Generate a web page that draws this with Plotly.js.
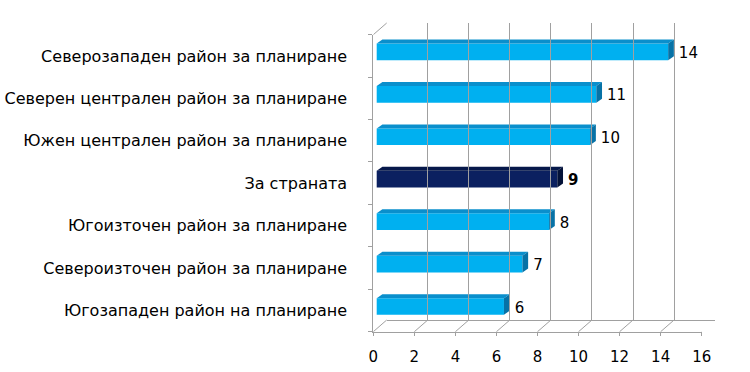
<!DOCTYPE html>
<html><head><meta charset="utf-8">
<script src="https://cdn.plot.ly/plotly-3.0.1.min.js"></script>
<style>body{margin:0;background:#fff}#c{width:750px;height:372px}</style>
</head><body><div id="c"></div>
<script>
// Categories listed top to bottom as in the chart
const categories = [
  "Северозападен район за планиране",
  "Северен централен район за планиране",
  "Южен централен район за планиране",
  "За страната",
  "Югоизточен район за планиране",
  "Североизточен район за планиране",
  "Югозападен район на планиране"
];
const values = [14.2, 10.7, 10.4, 8.8, 8.4, 7.1, 6.2];
const highlight = "За страната";
const xTicks = [0, 2, 4, 6, 8, 10, 12, 14, 16];

// ---- styling / geometry constants ----
const W = 750, H = 372;
const FONT = "DejaVu Sans";
const fx0 = 373.3, fx1 = 701.7, fyTop = 34.7, fyBot = 331.7;   // front frame (px)
const wallDX = 13.4, wallDY = 11.7;                            // depth of the 3D box (px)
const pxPerUnit = (fx1 - fx0) / 16;
const pxPerCat = (fyBot - fyTop) / categories.length;
const barBase = 3.4 / pxPerUnit;       // bar front sits a little into the box
const barShiftY = 4.0 / pxPerCat;
const barW = 16.7 / pxPerCat;
const bdx = 5.7 / pxPerUnit, bdy = 4.0 / pxPerCat;  // bar depth
const labelGap = 5 / pxPerUnit;
const wallDXu = wallDX / pxPerUnit;

const n = categories.length;
const idx = categories.map((c, i) => n - 1 - i);
const isHi = categories.map(c => c === highlight);
const frontCol = isHi.map(h => h ? "#0b2060" : "#00b0f0");
const topCol = isHi.map(h => h ? "#06184a" : "#0a8fcc");
const sideCol = isHi.map(h => h ? "#041238" : "#0772a6");

const px = x => x / W, py = y => (H - y) / H;

const traces = [];
// front faces
traces.push({
  type: "bar", orientation: "h", x: values, y: idx, base: barBase,
  width: barW, offset: -barW / 2 + barShiftY,
  marker: { color: frontCol, line: { width: 0 } }, hoverinfo: "skip", xaxis: "x", yaxis: "y"
});
// top and side faces
values.forEach((v, i) => {
  const y0 = idx[i] - barW / 2 + barShiftY, y1 = y0 + barW;
  const xa = barBase, xb = barBase + v;
  traces.push({
    type: "scatter", mode: "lines", fill: "toself", fillcolor: topCol[i],
    line: { width: 0, color: topCol[i] }, hoverinfo: "skip",
    x: [xa, xb, xb + bdx, xa + bdx, xa], y: [y1, y1, y1 + bdy, y1 + bdy, y1],
    xaxis: "x", yaxis: "y"
  });
  traces.push({
    type: "scatter", mode: "lines", fill: "toself", fillcolor: sideCol[i],
    line: { width: 0, color: sideCol[i] }, hoverinfo: "skip",
    x: [xb, xb, xb + bdx, xb + bdx, xb], y: [y0, y1, y1 + bdy, y0 + bdy, y0],
    xaxis: "x", yaxis: "y"
  });
});
// data labels
traces.push({
  type: "scatter", mode: "text", hoverinfo: "skip",
  x: values.map(v => barBase + v + bdx + labelGap), y: idx.map(k => k + 0.04),
  text: values.map((v, i) => isHi[i] ? "<b>" + v.toFixed(0) + "</b>" : v.toFixed(0)),
  textposition: "middle right",
  textfont: { family: FONT, size: 15, color: "#000" },
  xaxis: "x", yaxis: "y"
});
// dummy traces to create the back wall and the boundary-tick axes
traces.push({ type: "scatter", mode: "none", x: [0], y: [0], xaxis: "x2", yaxis: "y2", hoverinfo: "skip" });
traces.push({ type: "scatter", mode: "none", x: [0], y: [0], xaxis: "x", yaxis: "y3", hoverinfo: "skip" });

// floor diagonals + top-left diagonal
const shapes = xTicks.map(v => ({
  type: "line", xref: "x", yref: "paper",
  x0: v, y0: py(fyBot), x1: v + wallDXu, y1: py(fyBot - wallDY),
  line: { color: "#a0a0a0", width: 1 }, layer: "below"
}));
shapes.push({
  type: "line", xref: "x", yref: "paper",
  x0: 0, y0: py(fyTop), x1: wallDXu, y1: py(fyTop - wallDY),
  line: { color: "#a0a0a0", width: 1 }, layer: "below"
});

const layout = {
  width: W, height: H, margin: { l: 0, r: 0, t: 0, b: 0 },
  paper_bgcolor: "#fff", plot_bgcolor: "rgba(0,0,0,0)", showlegend: false,
  font: { family: FONT, color: "#000" },
  xaxis: {
    domain: [px(fx0), px(fx1)], range: [0, 16], tickvals: xTicks, ticktext: xTicks.map(String),
    showgrid: false, zeroline: false, showline: true, linecolor: "#a0a0a0", linewidth: 1,
    ticks: "outside", ticklen: 3, tickcolor: "#a0a0a0", ticklabelstandoff: 8,
    tickfont: { family: FONT, size: 15, color: "#000" }, anchor: "y", fixedrange: true
  },
  yaxis: {
    domain: [py(fyBot), py(fyTop)], range: [-0.5, n - 0.5],
    tickvals: idx, ticktext: categories, ticks: "", showgrid: false, zeroline: false,
    showline: true, linecolor: "#a0a0a0", linewidth: 1, ticklabelstandoff: 22,
    tickfont: { family: FONT, size: 16, color: "#000" }, anchor: "x", fixedrange: true
  },
  yaxis3: {
    overlaying: "y", anchor: "x", side: "left", range: [-0.5, n - 0.5],
    tickvals: Array.from({ length: n + 1 }, (_, k) => k - 0.5),
    ticks: "outside", ticklen: 4, tickcolor: "#a0a0a0", showticklabels: false,
    showgrid: false, zeroline: false, showline: false, fixedrange: true
  },
  xaxis2: {
    domain: [px(fx0 + wallDX), px(fx1 + wallDX)], range: [0, 16], tickvals: xTicks,
    showgrid: true, gridcolor: "#a0a0a0", gridwidth: 1, showticklabels: false, ticks: "",
    zeroline: false, showline: true, linecolor: "#a0a0a0", anchor: "y2", fixedrange: true
  },
  yaxis2: {
    domain: [py(fyBot - wallDY), py(fyTop - wallDY)], range: [0, 1],
    showgrid: false, showticklabels: false, ticks: "", zeroline: false, showline: false,
    anchor: "x2", fixedrange: true
  },
  shapes: shapes
};

Plotly.newPlot("c", traces, layout, { staticPlot: true, displayModeBar: false });
</script></body></html>
